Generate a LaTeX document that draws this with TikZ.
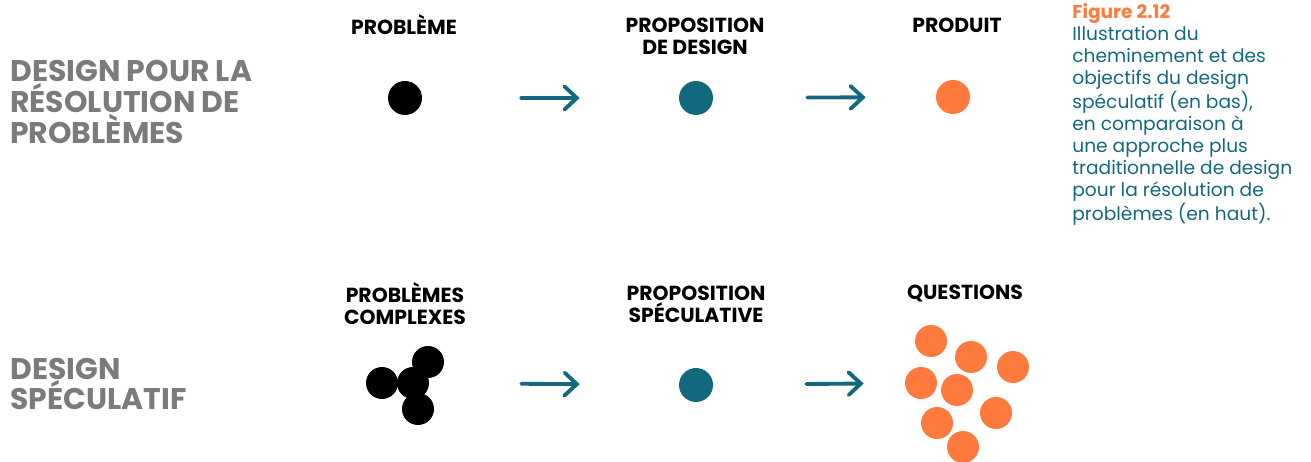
\documentclass[tikz,border=0pt]{standalone}
\usepackage{fontspec}
\setmainfont{Poppins}
\usepackage{tikz}
\usetikzlibrary{positioning,arrows.meta}
\definecolor{specteal}{HTML}{12697E}
\definecolor{specorange}{HTML}{FF7A3C}
\definecolor{specgray}{HTML}{7B7B7B}

\begin{document}
\begin{tikzpicture}[x=0.02cm, y=-0.02cm, font=\bfseries\fontsize{10.5}{12.5}\selectfont]
  \useasboundingbox (0,0) rectangle (1311,462);
  \tikzset{
    dotsm/.style={circle, inner sep=0pt, minimum size=0.64cm},
    dotbig/.style={circle, inner sep=0pt, minimum size=0.68cm},
    flow/.style={specteal, line width=2.2pt, line cap=round,
                 -{Straight Barb[length=7pt, width=13pt, line cap=round]}},
    rowlabel/.style={anchor=west, align=left, text=specgray, inner sep=0pt,
                     font=\bfseries\fontsize{17}{17.6}\selectfont},
    head/.style={align=center, font=\bfseries\fontsize{11.6}{12.5}\selectfont}
  }

  % top row
  \node[rowlabel] (r1) at (10,102) {DESIGN POUR LA\\RÉSOLUTION DE\\PROBLÈMES};
  \node[head] (h1) at (404,25) {PROBLÈME};
  \node[head] (h2) at (695,36) {PROPOSITION\\DE DESIGN};
  \node[head] (h3) at (957,25) {PRODUIT};
  \node[dotbig, fill=black] (p1) at (405,98) {};
  \node[dotbig, fill=specteal] (p2) at (696,98) {};
  \node[dotbig, fill=specorange] (p3) at (953,97) {};
  \draw[flow, shorten <=1.98cm, shorten >=1.98cm] (p1) -- (p2);
  \draw[flow, shorten <=1.88cm, shorten >=1.4cm] (p2) -- (p3);

  % bottom row
  \node[rowlabel] (r2) at (10,384) {DESIGN\\SPÉCULATIF};
  \node[head] (h4) at (405,304) {PROBLÈMES\\COMPLEXES};
  \node[head] (h5) at (696,304) {PROPOSITION\\SPÉCULATIVE};
  \node[head] (h6) at (965,293) {QUESTIONS};
  \node[dotsm, fill=black] (b1) at (428,362) {};
  \node[dotsm, fill=black] (b2) at (382,383) {};
  \node[dotsm, fill=black] (b4) at (418,409) {};
  \node[dotsm, fill=black] (b3) at (413,383) {};
  \node[dotbig, fill=specteal] (q0) at (696,385) {};
  \foreach \n/\px/\py in {1/931/341, 2/971/357, 3/1013/367, 4/921/383,
                          5/957/390, 6/996/413, 7/937/423, 8/963/447}
    \node[dotsm, fill=specorange] (q\n) at (\px,\py) {};
  \draw[flow, shorten <=1.84cm, shorten >=1.98cm] (b3) -- (q0);
  \draw[flow, shorten <=1.86cm, shorten >=0.82cm] (q0) -- (q4);

  % caption
  \node[anchor=north west, align=left, inner sep=0pt, text=specteal,
        font=\fontsize{10.6}{12.5}\selectfont] (cap) at (1072,3)
        {{\bfseries\color{specorange}Figure 2.12}\\Illustration du\\cheminement et des\\objectifs du design\\spéculatif (en bas),\\en comparaison à\\une approche plus\\traditionnelle de design\\pour la résolution de\\problèmes (en haut).};
\end{tikzpicture}
\end{document}
